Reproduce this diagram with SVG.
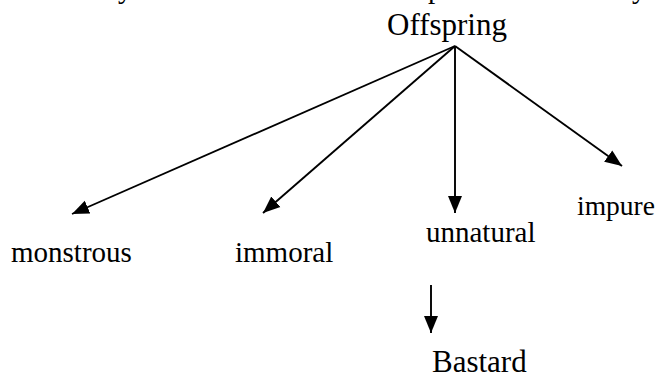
<svg xmlns="http://www.w3.org/2000/svg" width="662" height="374" viewBox="0 0 662 374">
  <style>
    text { font-family: 'Liberation Serif', 'DejaVu Serif', serif; font-size: 29px; fill: #000; }
    .big { font-size: 31px; }
    .edge { stroke: #000; stroke-width: 1.9; fill: none; marker-end: url(#head); }
  </style>
  <defs>
    <marker id="head" markerUnits="userSpaceOnUse" markerWidth="18" markerHeight="16" viewBox="0 0 18 16" refX="17" refY="8" orient="auto">
      <path d="M0,1 L17,8 L0,15 Z" fill="#000"/>
    </marker>
  </defs>
  <rect width="662" height="374" fill="#fff"/>

  <!-- descenders of the preceding line of prose, clipped at the top edge -->
  <g id="prose-line">
    <text x="118" y="-2">y</text>
    <text x="428" y="-2">p</text>
    <text x="632" y="-2">y</text>
  </g>

  <g id="offspring"><text class="big" x="387" y="35">Offspring</text></g>
  <g id="monstrous"><text x="11" y="262">monstrous</text></g>
  <g id="immoral"><text x="235" y="262">immoral</text></g>
  <g id="unnatural"><text x="426" y="242">unnatural</text></g>
  <g id="impure"><text x="577" y="215" style="font-size:27.5px">impure</text></g>
  <g id="bastard"><text class="big" x="432" y="372">Bastard</text></g>

  <g id="connectors">
    <line class="edge" x1="455" y1="46" x2="72" y2="214"/>
    <line class="edge" x1="455" y1="46" x2="263" y2="213"/>
    <line class="edge" x1="455" y1="46" x2="455" y2="213"/>
    <line class="edge" x1="455" y1="46" x2="622" y2="166"/>
    <line class="edge" x1="431" y1="285" x2="431" y2="333"/>
  </g>
</svg>
